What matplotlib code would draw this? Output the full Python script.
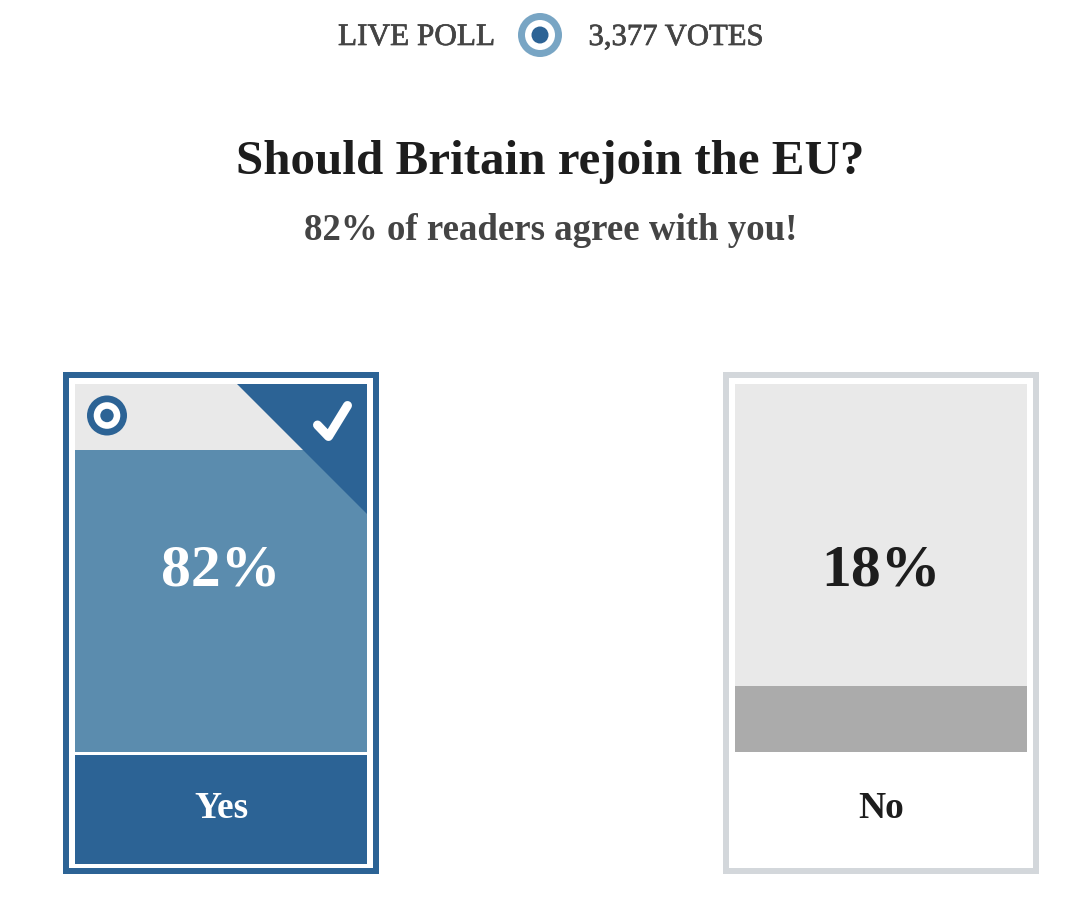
import matplotlib
matplotlib.use("Agg")
import matplotlib.pyplot as plt
import matplotlib.patheffects as pe
from matplotlib.patches import Rectangle, Polygon, Circle

# ----------------------------
# Data
# ----------------------------
QUESTION = "Should Britain rejoin the EU?"
SUBHEAD = "82% of readers agree with you!"
LIVE_LABEL = "LIVE POLL"
VOTES_LABEL = "3,377 VOTES"

answers = ["Yes", "No"]
shares = [82, 18]

# ----------------------------
# Settings
# ----------------------------
W, H = 1072, 906
DPI = 100

BLUE = "#2c6395"
LIGHT_BLUE = "#5b8cae"
RING_BLUE = "#78a5c4"
TRACK = "#e9e9e9"
LOSER_BAR = "#ababab"
LOSER_BORDER = "#d3d7db"
DARK = "#1d1d1d"
GREY_TEXT = "#444444"

plt.rcParams["font.family"] = ["Liberation Serif", "DejaVu Serif"]

CARD_LEFT = [63, 723]
CARD_W = 316
CARD_TOP, CARD_BOTTOM = 372, 874
BORDER = 6
INNER_PAD = 12
BAR_BOTTOM = 752


def target(ax, x, y, outer, inner, dot, ring_color, dot_color):
    ax.add_patch(Circle((x, y), outer, fc=ring_color, ec="none"))
    ax.add_patch(Circle((x, y), inner, fc="white", ec="none"))
    ax.add_patch(Circle((x, y), dot, fc=dot_color, ec="none"))


fig = plt.figure(figsize=(W / DPI, H / DPI), dpi=DPI, facecolor="white")

# ----------------------------
# Result bars
# ----------------------------
for left, share, is_winner in zip(CARD_LEFT, shares, [True, False]):
    bar_left = left + INNER_PAD
    bar_w = CARD_W - 2 * INNER_PAD
    bar_top = CARD_TOP + INNER_PAD
    rect = [bar_left / W, 1 - BAR_BOTTOM / H, bar_w / W, (BAR_BOTTOM - bar_top) / H]
    bar_ax = fig.add_axes(rect, facecolor=TRACK)
    bar_ax.bar(0, share, width=1, color=LIGHT_BLUE if is_winner else LOSER_BAR)
    bar_ax.set_xlim(-0.5, 0.5)
    bar_ax.set_ylim(0, 100)
    bar_ax.set_xticks([])
    bar_ax.set_yticks([])
    for spine in bar_ax.spines.values():
        spine.set_visible(False)

# ----------------------------
# Everything else, in pixel coordinates
# ----------------------------
ax = fig.add_axes([0, 0, 1, 1], zorder=5)
ax.patch.set_alpha(0)
ax.set_xlim(0, W)
ax.set_ylim(H, 0)
ax.axis("off")

heavier = [pe.withStroke(linewidth=0.5, foreground=GREY_TEXT)]
ax.text(338, 34, LIVE_LABEL, fontsize=22.5, color=GREY_TEXT, ha="left", va="center_baseline",
        path_effects=heavier)
ax.text(763, 34, VOTES_LABEL, fontsize=22.1, color=GREY_TEXT, ha="right", va="center_baseline",
        path_effects=heavier)
target(ax, 540, 35, 22, 15, 8.5, RING_BLUE, BLUE)

ax.text(550, 157, QUESTION, fontsize=35.3, fontweight="bold", color=DARK, ha="center", va="center_baseline")
ax.text(551, 227, SUBHEAD, fontsize=26.6, fontweight="bold", color=GREY_TEXT, ha="center", va="center_baseline")

for left, answer, share, is_winner in zip(CARD_LEFT, answers, shares, [True, False]):
    mid = left + CARD_W / 2
    right = left + CARD_W
    border_color = BLUE if is_winner else LOSER_BORDER
    ax.add_patch(Rectangle(
        (left + BORDER / 2, CARD_TOP + BORDER / 2),
        CARD_W - BORDER,
        CARD_BOTTOM - CARD_TOP - BORDER,
        fill=False, ec=border_color, lw=BORDER * 72 / DPI, joinstyle="miter"
    ))
    if is_winner:
        ax.add_patch(Rectangle(
            (left + INNER_PAD, 755), CARD_W - 2 * INNER_PAD, 109, fc=BLUE, ec="none"
        ))
        ax.add_patch(Polygon(
            [(237, CARD_TOP + INNER_PAD), (right - INNER_PAD, CARD_TOP + INNER_PAD), (right - INNER_PAD, 514)],
            closed=True, fc=BLUE, ec="none"
        ))
        ax.plot([317.5, 328.5, 347.5], [425, 436.5, 405.5], color="white", lw=9 * 72 / DPI,
                solid_capstyle="round", solid_joinstyle="round")
        target(ax, 107, 415.5, 20, 13.3, 6.7, BLUE, BLUE)

    text_color = "white" if is_winner else DARK
    ax.text(mid, 565, f"{share}%", fontsize=43, fontweight="bold", color=text_color,
            ha="center", va="center_baseline")
    ax.text(mid, 805, answer, fontsize=27, fontweight="bold", color=text_color,
            ha="center", va="center_baseline")

fig.savefig("out.png", dpi=DPI, facecolor="white")
